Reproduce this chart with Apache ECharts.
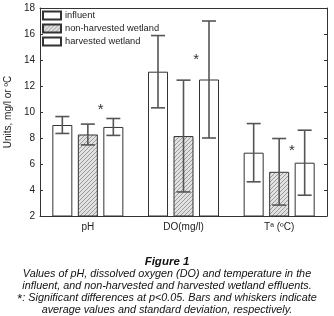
<!DOCTYPE html>
<html>
<head>
<meta charset="utf-8">
<script src="https://cdn.jsdelivr.net/npm/echarts@6/dist/echarts.min.js"></script>
<style>
  html, body { margin: 0; padding: 0; background: #fff; }
  #main { width: 334px; height: 316px; }
</style>
</head>
<body>
<div id="main"></div>
<script>
// data
var categories = ['pH', 'DO(mg/l)', 'Tª (ºC)'];
var seriesNames = ['influent', 'non-harvested wetland', 'harvested wetland'];
var influentMean = [9.0, 13.1, 6.87];
var influentSd = [0.65, 2.78, 2.24];
var nonHarvMean = [8.27, 8.15, 5.4];
var nonHarvSd = [0.8, 4.3, 2.56];
var harvMean = [8.85, 12.5, 6.1];
var harvSd = [0.65, 4.5, 2.5];
var starValues = [10.2, 14.0, 7.0];
var yTicks = [2, 4, 6, 8, 10, 12, 14, 16, 18];

var means = [influentMean, nonHarvMean, harvMean];
var sds = [influentSd, nonHarvSd, harvSd];

var chartDom = document.getElementById('main');
var myChart = echarts.init(chartDom);

// hatch pattern for non-harvested bars
var pc = document.createElement('canvas');
pc.width = 4; pc.height = 4;
var ctx = pc.getContext('2d');
ctx.fillStyle = '#e2e2e2';
ctx.fillRect(0, 0, 4, 4);
ctx.strokeStyle = '#9a9a9a';
ctx.lineWidth = 1;
ctx.beginPath();
ctx.moveTo(0, 4); ctx.lineTo(4, 0);
ctx.moveTo(-1, 1); ctx.lineTo(1, -1);
ctx.moveTo(3, 5); ctx.lineTo(5, 3);
ctx.stroke();
var hatch = { image: pc, repeat: 'repeat' };

var barW = 20;
var gapPx = 5.5;
var fills = ['#fff', hatch, '#fff'];

var font = 'Liberation Sans, Arial, sans-serif';
var series = [];
for (var s = 0; s < 3; s++) {
  series.push({
    name: seriesNames[s],
    type: 'bar',
    barWidth: barW,
    barGap: (gapPx / barW * 100) + '%',
    barCategoryGap: '24%',
    data: means[s],
    itemStyle: { color: fills[s], borderColor: '#333', borderWidth: 1 },
    emphasis: { disabled: true },
    z: 2
  });
}
// error bars
for (var s = 0; s < 3; s++) {
  (function (s) {
    var d = [];
    for (var i = 0; i < 3; i++) d.push([i, means[s][i] - sds[s][i], means[s][i] + sds[s][i]]);
    series.push({
      type: 'custom',
      data: d,
      z: 5,
      silent: true,
      renderItem: function (params, api) {
        var off = (s - 1) * (barW + gapPx);
        var lo = api.coord([api.value(0), api.value(1)]);
        var hi = api.coord([api.value(0), api.value(2)]);
        var x = lo[0] + off;
        var cw = 7;
        var st = { stroke: '#555', lineWidth: 1.6 };
        return {
          type: 'group',
          children: [
            { type: 'line', shape: { x1: x, y1: lo[1], x2: x, y2: hi[1] }, style: st },
            { type: 'line', shape: { x1: x - cw, y1: lo[1], x2: x + cw, y2: lo[1] }, style: st },
            { type: 'line', shape: { x1: x - cw, y1: hi[1], x2: x + cw, y2: hi[1] }, style: st }
          ]
        };
      }
    });
  })(s);
}
// significance stars
series.push({
  type: 'custom',
  data: starValues.map(function (v, i) { return [i, v]; }),
  z: 6,
  silent: true,
  renderItem: function (params, api) {
    var p = api.coord([api.value(0), api.value(1)]);
    return {
      type: 'text',
      x: p[0] + (barW + gapPx) / 2,
      y: p[1],
      style: { text: '*', font: '15px ' + font, fill: '#333', align: 'center', verticalAlign: 'middle' }
    };
  }
});

var option = {
  animation: false,
  backgroundColor: '#fff',
  grid: { left: 40, right: 7, top: 8, bottom: 100, containLabel: false, outerBoundsMode: 'none' },
  legend: {
    orient: 'vertical',
    left: 42,
    top: 10,
    padding: 0,
    itemWidth: 18,
    itemHeight: 8,
    itemGap: 2,
    icon: 'rect',
    selectedMode: false,
    data: seriesNames,
    textStyle: { fontFamily: font, fontSize: 9.3, color: '#222', padding: [0, 0, 0, -1], lineHeight: 11 }
  },
  xAxis: [
    {
      type: 'category',
      data: categories,
      axisLine: { lineStyle: { color: '#333', width: 1 } },
      axisTick: { inside: true, alignWithLabel: true, length: 3, lineStyle: { color: '#333' } },
      axisLabel: { fontFamily: font, fontSize: 10, color: '#222', margin: 6 }
    },
    {
      type: 'category',
      data: categories,
      position: 'top',
      axisLine: { lineStyle: { color: '#333', width: 1 } },
      axisTick: { inside: true, alignWithLabel: true, length: 3, lineStyle: { color: '#333' } },
      axisLabel: { show: false }
    }
  ],
  yAxis: [
    {
      type: 'value',
      min: yTicks[0],
      max: yTicks[yTicks.length - 1],
      interval: 2,
      name: 'Units, mg/l or ºC',
      nameLocation: 'middle',
      nameGap: 24,
      nameTextStyle: { fontFamily: font, fontSize: 10, color: '#222' },
      axisLine: { show: true, lineStyle: { color: '#333', width: 1 } },
      axisTick: { show: true, inside: true, length: 3, lineStyle: { color: '#333' } },
      axisLabel: { fontFamily: font, fontSize: 10, color: '#222', margin: 5 },
      splitLine: { show: false }
    },
    {
      type: 'value',
      min: yTicks[0],
      max: yTicks[yTicks.length - 1],
      interval: 2,
      position: 'right',
      axisLine: { show: true, lineStyle: { color: '#333', width: 1 } },
      axisTick: { show: true, inside: true, length: 3, lineStyle: { color: '#333' } },
      axisLabel: { show: false },
      splitLine: { show: false }
    }
  ],
  graphic: [
    { type: 'text', left: 'center', top: 256, style: { text: 'Figure 1', font: 'italic bold 11.5px ' + font, fill: '#111' } },
    { type: 'text', left: 'center', top: 268, style: { text: 'Values of pH, dissolved oxygen (DO) and temperature in the', font: 'italic 10.8px ' + font, fill: '#111' } },
    { type: 'text', left: 'center', top: 280, style: { text: 'influent, and non-harvested and harvested wetland effluents.', font: 'italic 10.8px ' + font, fill: '#111' } },
    { type: 'text', left: 'center', top: 292, style: {
        rich: { s: { font: '13px ' + font, fill: '#111', padding: [4, 0, 0, 0] }, t: { font: 'italic 10.8px ' + font, fill: '#111' } },
        text: '{s|*}{t|: Significant differences at p<0.05. Bars and whiskers indicate}' } },
    { type: 'text', left: 'center', top: 304, style: { text: 'average values and standard deviation, respectively.', font: 'italic 10.8px ' + font, fill: '#111' } }
  ],
  series: series
};

option && myChart.setOption(option);
</script>
</body>
</html>
